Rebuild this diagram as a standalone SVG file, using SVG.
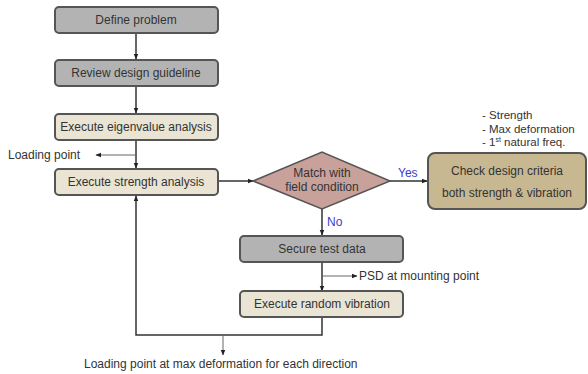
<svg xmlns="http://www.w3.org/2000/svg" width="588" height="374" viewBox="0 0 588 374">
<defs>
<marker id="ah" viewBox="0 0 10 10" refX="9" refY="5" markerWidth="6" markerHeight="6" orient="auto" markerUnits="userSpaceOnUse">
<path d="M0,1 L10,5 L0,9 z" fill="#222"/>
</marker>
</defs>
<style>
text{font-family:"Liberation Sans",Arial,sans-serif;font-size:12px;fill:#333}
.c{text-anchor:middle}
.b{font-size:11.5px}
.gray{fill:#b3b3b3;stroke:#555;stroke-width:2}
.beige{fill:#e9e4d3;stroke:#555;stroke-width:2}
.tan{fill:#c8b892;stroke:#555;stroke-width:2}
.dia{fill:#c9a19b;stroke:#555;stroke-width:1.5}
.ln{fill:none;stroke:#333;stroke-width:1.5}
.thin{fill:none;stroke:#666;stroke-width:1}
.blue{fill:#3a3ad0}
</style>
<rect width="588" height="374" fill="#fff"/>
<g id="connectors">
<line class="ln" x1="136" y1="33" x2="136" y2="59" marker-end="url(#ah)"/>
<line class="ln" x1="136" y1="86" x2="136" y2="113" marker-end="url(#ah)"/>
<line class="ln" x1="136" y1="140" x2="136" y2="168" marker-end="url(#ah)"/>
<line class="thin" x1="136" y1="155" x2="96" y2="155" marker-end="url(#ah)"/>
<line class="ln" x1="218" y1="181" x2="253" y2="181" marker-end="url(#ah)"/>
<line class="ln" x1="390" y1="181" x2="427" y2="181" marker-end="url(#ah)"/>
<line class="ln" x1="322" y1="209" x2="322" y2="235" marker-end="url(#ah)"/>
<line class="ln" x1="322" y1="262" x2="322" y2="291" marker-end="url(#ah)"/>
<line class="thin" x1="322" y1="276" x2="357" y2="276" marker-end="url(#ah)"/>
<polyline class="ln" points="322,317 322,335 136,335 136,196" marker-end="url(#ah)"/>
<line class="thin" x1="223" y1="335" x2="223" y2="355" marker-end="url(#ah)"/>
</g>
<g id="n-define"><rect class="gray" x="55" y="7" width="163" height="26" rx="4"/><text class="c" x="136" y="24">Define problem</text></g>
<g id="n-review"><rect class="gray" x="55" y="60" width="163" height="26" rx="4"/><text class="c" x="136" y="77">Review design guideline</text></g>
<g id="n-eigen"><rect class="beige" x="55" y="114" width="163" height="26" rx="4"/><text class="c" x="136" y="131">Execute eigenvalue analysis</text></g>
<g id="n-strength"><rect class="beige" x="55" y="169" width="163" height="26" rx="4"/><text class="c" x="136" y="186">Execute strength analysis</text></g>
<g id="n-match"><polygon class="dia" points="253,181 322,152 390,181 322,209"/><text class="c" x="322" y="177">Match with</text><text class="c" x="322" y="191">field condition</text></g>
<g id="n-check"><rect class="tan" x="428" y="153" width="158" height="56" rx="7"/><text class="c" x="507" y="175">Check design criteria</text><text class="c" x="507" y="197">both strength &amp; vibration</text></g>
<g id="n-secure"><rect class="gray" x="240" y="236" width="163" height="26" rx="4"/><text class="c" x="322" y="253">Secure test data</text></g>
<g id="n-random"><rect class="beige" x="240" y="291" width="163" height="26" rx="4"/><text class="c" x="322" y="308">Execute random vibration</text></g>
<g id="labels">
<text x="8" y="159">Loading point</text>
<text class="blue" x="398" y="177">Yes</text>
<text class="blue" x="327" y="226">No</text>
<text x="359" y="280">PSD at mounting point</text>
<text x="84" y="368">Loading point at max deformation for each direction</text>
<text class="b" x="482" y="119">- Strength</text>
<text class="b" x="482" y="132.5">- Max deformation</text>
<text class="b" x="482" y="146">- 1<tspan font-size="7" dy="-4">st</tspan><tspan dy="4"> natural freq.</tspan></text>
</g>
</svg>
